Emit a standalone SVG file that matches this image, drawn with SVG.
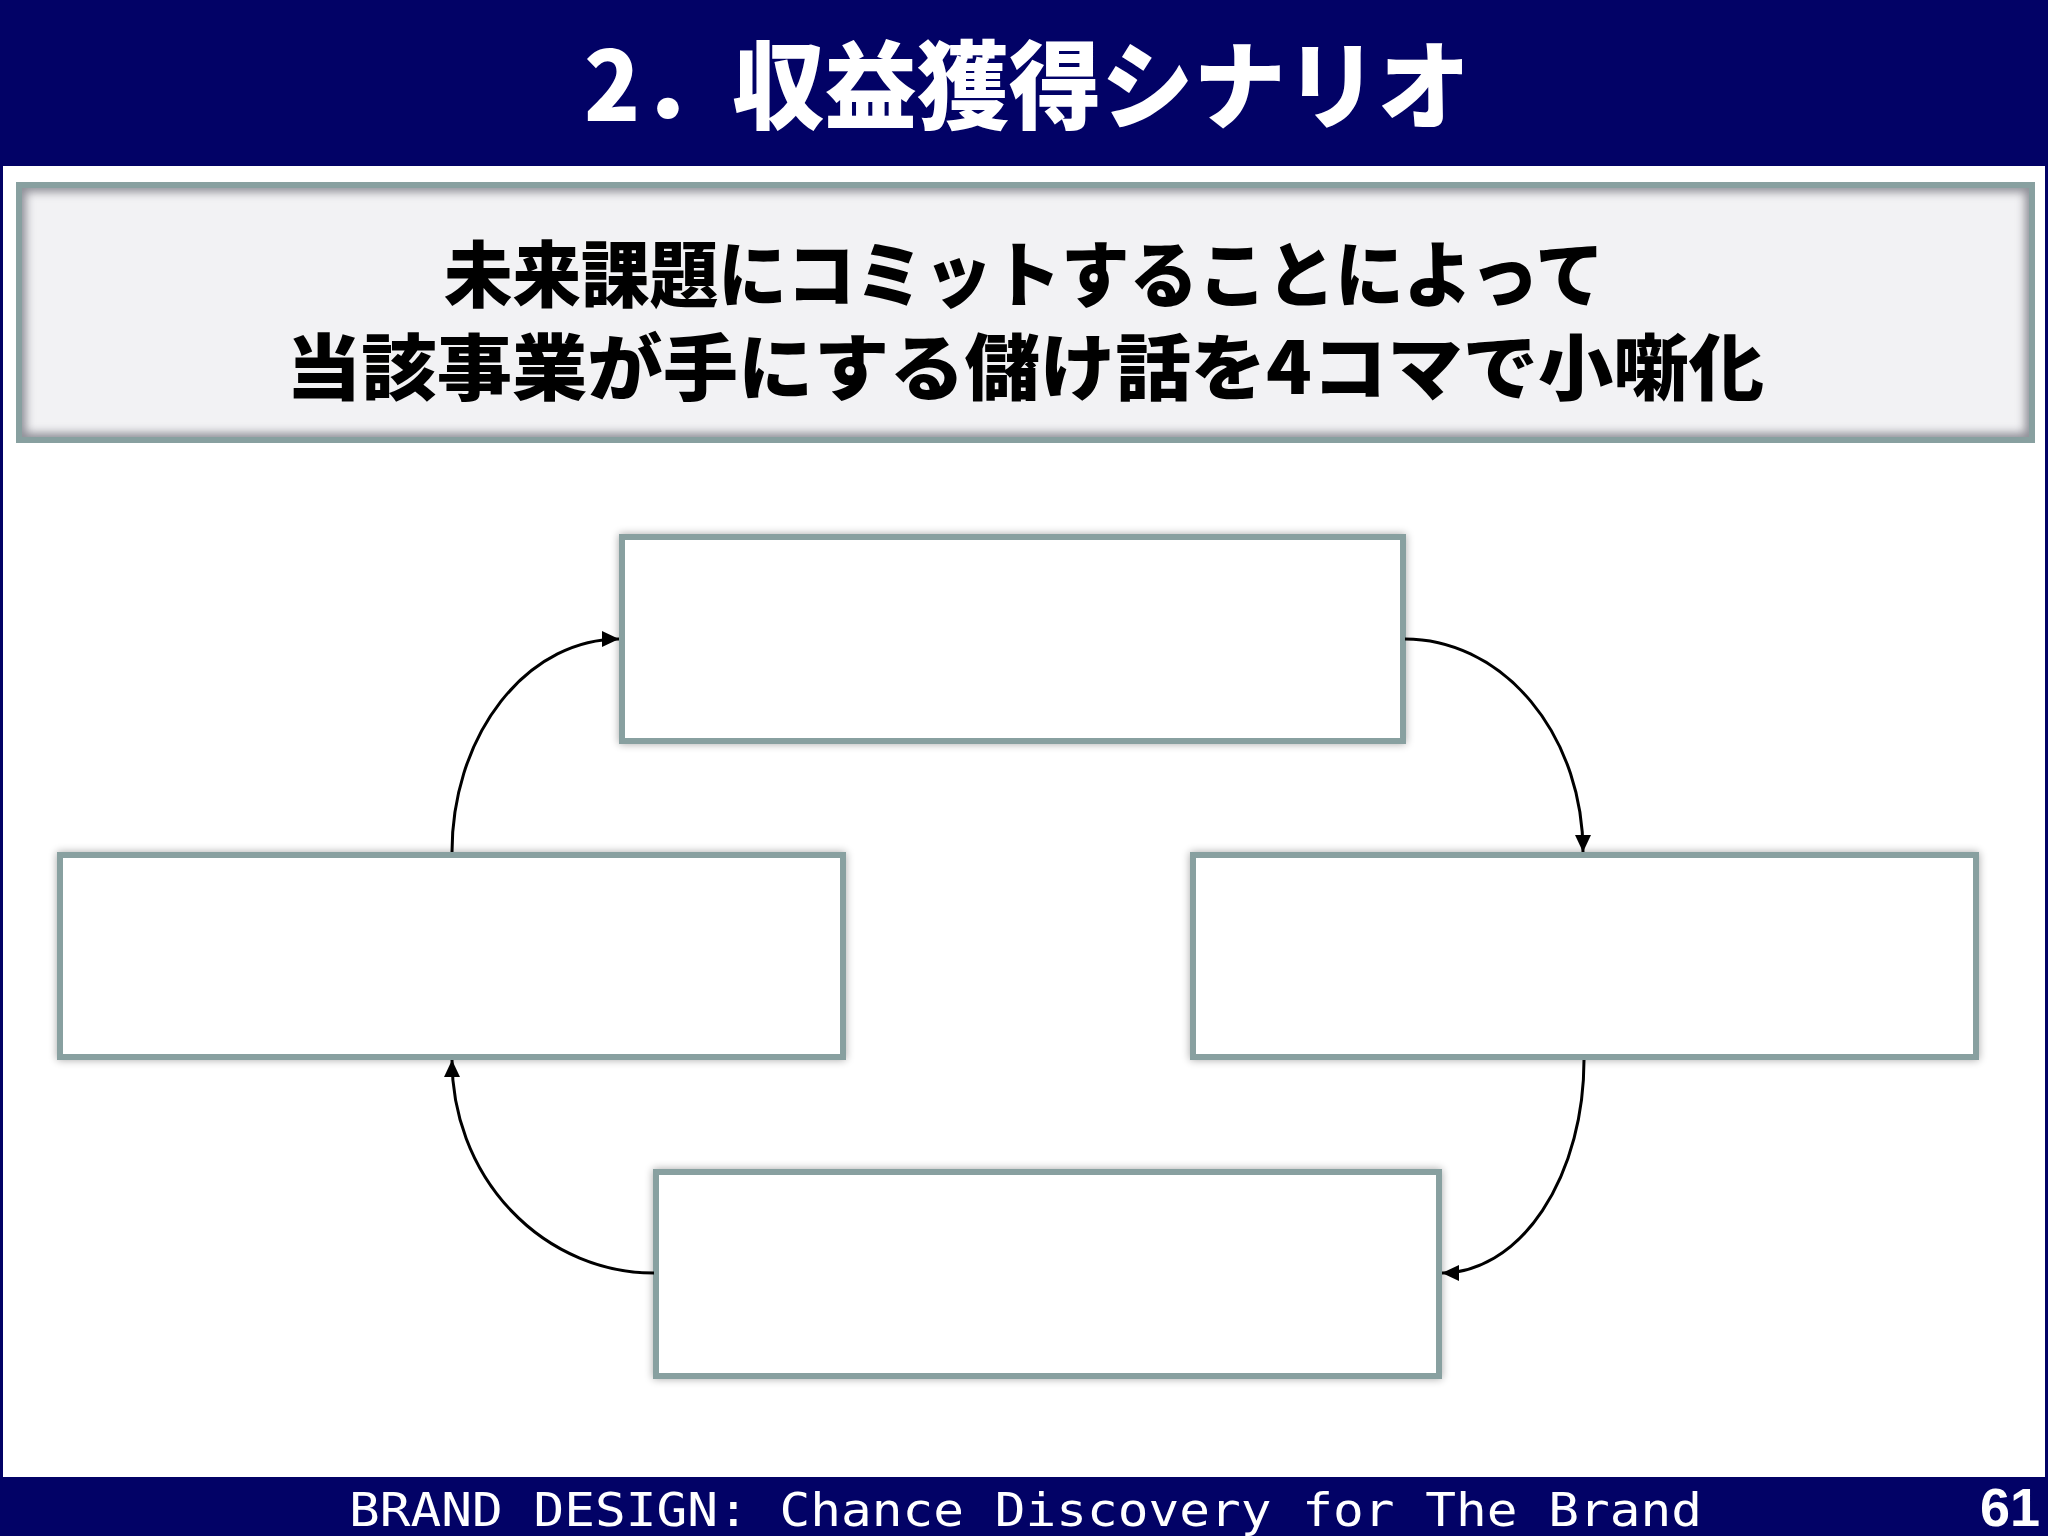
<svg xmlns="http://www.w3.org/2000/svg" width="2048" height="1536" viewBox="0 0 2048 1536">
  <style>
    .band { fill: #020266; }
    .node { fill: #FFFFFF; stroke: #88A0A0; stroke-width: 6; }
    .conn { fill: none; stroke: #000000; stroke-width: 3; }
    .title { font-family: "Noto Sans CJK JP", "Noto Sans", sans-serif; font-weight: 900; fill: #FFFFFF; }
    .sub { font-family: "Noto Sans CJK JP", "Noto Sans", sans-serif; font-weight: 900; fill: #000000; }
    .foot { font-family: "DejaVu Sans Mono", "Liberation Mono", monospace; fill: #FFFFFF; }
    .pnum { font-family: "Liberation Sans", Arial, sans-serif; font-weight: bold; fill: #FFFFFF; }
  </style>
  <defs>
    <filter id="glow" x="-5%" y="-10%" width="110%" height="120%">
      <feGaussianBlur in="SourceAlpha" stdDeviation="4"/>
      <feComponentTransfer><feFuncA type="linear" slope="0.35"/></feComponentTransfer>
      <feMerge><feMergeNode/><feMergeNode in="SourceGraphic"/></feMerge>
    </filter>
    <filter id="blur5"><feGaussianBlur stdDeviation="5"/></filter>
    <clipPath id="subclip"><rect x="19" y="185" width="2013" height="255"/></clipPath>
    <marker id="arrow" markerUnits="userSpaceOnUse" markerWidth="18" markerHeight="18" refX="17" refY="8" orient="auto">
      <path d="M0,0 L17,8 L0,16 Z" fill="#000000"/>
    </marker>
  </defs>

  <!-- background and frame -->
  <rect x="0" y="0" width="2048" height="1536" fill="#FFFFFF"/>
  <rect x="1.5" y="0" width="2045" height="1536" fill="none" stroke="#020266" stroke-width="3"/>

  <!-- header -->
  <g id="header">
    <rect class="band" x="0" y="0" width="2048" height="166"/>
    <text class="title" x="584" y="121" font-size="96" textLength="886" lengthAdjust="spacingAndGlyphs">2．収益獲得シナリオ</text>
  </g>

  <!-- subtitle box -->
  <g id="subtitle">
    <rect x="19" y="185" width="2013" height="255" fill="#F2F2F4"/>
    <g clip-path="url(#subclip)">
      <rect x="19" y="185" width="2013" height="255" fill="none" stroke="#8E8E96" stroke-width="14" filter="url(#blur5)"/>
    </g>
    <rect x="19" y="185" width="2013" height="255" fill="none" stroke="#88A0A0" stroke-width="6"/>
    <text class="sub" font-size="72" text-anchor="middle"><tspan x="1024" y="301" textLength="1160" lengthAdjust="spacingAndGlyphs">未来課題にコミットすることによって</tspan><tspan x="1025" y="394" textLength="1478" lengthAdjust="spacingAndGlyphs">当該事業が手にする儲け話を4コマで小噺化</tspan></text>
  </g>

  <!-- nodes -->
  <g id="node-top" filter="url(#glow)">
    <rect class="node" x="622" y="537" width="781" height="204"/>
  </g>
  <g id="node-left" filter="url(#glow)">
    <rect class="node" x="60" y="855" width="783" height="202"/>
  </g>
  <g id="node-right" filter="url(#glow)">
    <rect class="node" x="1193" y="855" width="783" height="202"/>
  </g>
  <g id="node-bottom" filter="url(#glow)">
    <rect class="node" x="656" y="1172" width="783" height="204"/>
  </g>

  <!-- connectors -->
  <g id="connectors">
    <path class="conn" d="M1405,639 A178,213 0 0 1 1583,852" marker-end="url(#arrow)"/>
    <path class="conn" d="M1584,1060 A142,213 0 0 1 1442,1273" marker-end="url(#arrow)"/>
    <path class="conn" d="M654,1273 A202,213 0 0 1 452,1060" marker-end="url(#arrow)"/>
    <path class="conn" d="M452,852 A167,213 0 0 1 619,639" marker-end="url(#arrow)"/>
  </g>

  <!-- footer -->
  <g id="footer">
    <rect class="band" x="0" y="1477" width="2048" height="59"/>
    <text class="foot" x="349" y="1526" font-size="46" textLength="1353" lengthAdjust="spacingAndGlyphs">BRAND DESIGN: Chance Discovery for The Brand</text>
    <text class="pnum" x="2040" y="1526" font-size="54" text-anchor="end">61</text>
  </g>
</svg>
